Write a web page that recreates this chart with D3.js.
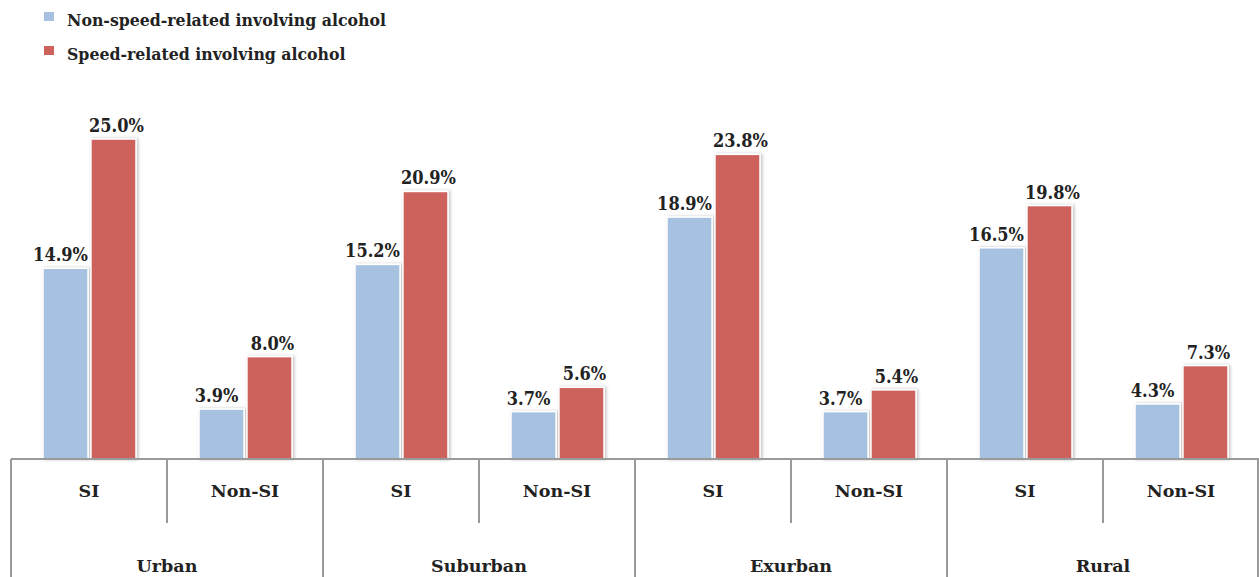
<!DOCTYPE html>
<html><head><meta charset="utf-8">
<script src="https://cdn.jsdelivr.net/npm/d3@7"></script>
<style>body{margin:0;background:#fff}svg{display:block}
svg text{font-family:"DejaVu Serif",serif;font-weight:bold;fill:#222}
svg text.cond{font-stretch:condensed}</style>
</head><body>
<svg id="c" width="1259" height="577"></svg>
<script>
const groups = ["Urban","Suburban","Exurban","Rural"];
const subcats = ["SI","Non-SI"];
const seriesNames = ["Non-speed-related involving alcohol","Speed-related involving alcohol"];
const nonSpeed = [14.9, 3.9, 15.2, 3.7, 18.9, 3.7, 16.5, 4.3];
const speed =    [25.0, 8.0, 20.9, 5.6, 23.8, 5.4, 19.8, 7.3];
const colors = ["#a7c1e0", "#cd625c"];

const svg = d3.select("#c");
const x0 = 11, x1 = 1259, axisY = 459;
const slots = [];
groups.forEach(g => subcats.forEach(s => slots.push(g + "|" + s)));
const x = d3.scaleBand().domain(slots).range([x0, x1]);
const xg = d3.scaleBand().domain(groups).range([x0, x1]);
const xs = d3.scaleBand().domain(d3.range(2)).range([32, x.bandwidth() - 31]).paddingInner(0.06);
const y = d3.scaleLinear().domain([0, 25]).range([axisY, 139]);

const defs = svg.append("defs");
const f = defs.append("filter").attr("id","sh").attr("x","-20%").attr("y","-10%").attr("width","140%").attr("height","120%");
f.append("feDropShadow").attr("dx",1.5).attr("dy",0).attr("stdDeviation",1.5).attr("flood-color","#000").attr("flood-opacity",0.25);

// legend
seriesNames.forEach((n,i)=>{
  const ly = 16 + i*34;
  svg.append("rect").attr("x",44).attr("y",ly-4).attr("width",10).attr("height",9).attr("fill",colors[i]);
  svg.append("text").attr("class","cond").attr("x",67).attr("y",ly+10).text(n).attr("font-size",17.5);
});

const data = [nonSpeed, speed];
const labOff = [-5, 3];
slots.forEach((slot, j) => {
  data.forEach((vals, si) => {
    const v = vals[j];
    const bx = x(slot) + xs(si);
    svg.append("rect").attr("x", bx).attr("y", y(v)).attr("width", xs.bandwidth()).attr("height", axisY - y(v))
      .attr("fill", colors[si]).attr("stroke","#fff").attr("stroke-width",1.5).attr("filter","url(#sh)");
    svg.append("text").attr("class","cond").attr("x", bx + xs.bandwidth()/2 + labOff[si]).attr("y", y(v) - 7).attr("text-anchor","middle")
      .text(v.toFixed(1) + "%").attr("font-size",18);
  });
});

// axis lines
const lc = "#9a9a9a";
svg.append("line").attr("x1",x0).attr("x2",x1).attr("y1",axisY).attr("y2",axisY).attr("stroke",lc).attr("stroke-width",2);
groups.forEach((g,i)=>{
  svg.append("line").attr("x1",xg(g)).attr("x2",xg(g)).attr("y1",axisY).attr("y2",577).attr("stroke",lc).attr("stroke-width",2);
  const mid = xg(g) + xg.bandwidth()/2;
  svg.append("line").attr("x1",mid).attr("x2",mid).attr("y1",axisY).attr("y2",523).attr("stroke",lc).attr("stroke-width",2);
  svg.append("text").attr("x", mid).attr("y", 572).attr("text-anchor","middle").text(g).attr("font-size",17.5);
});
svg.append("line").attr("x1",x1-1).attr("x2",x1-1).attr("y1",axisY).attr("y2",577).attr("stroke",lc).attr("stroke-width",2);
slots.forEach(slot=>{
  const s = slot.split("|")[1];
  svg.append("text").attr("x", x(slot) + x.bandwidth()/2).attr("y", 497).attr("text-anchor","middle").text(s).attr("font-size",17.5);
});
</script>
</body></html>
